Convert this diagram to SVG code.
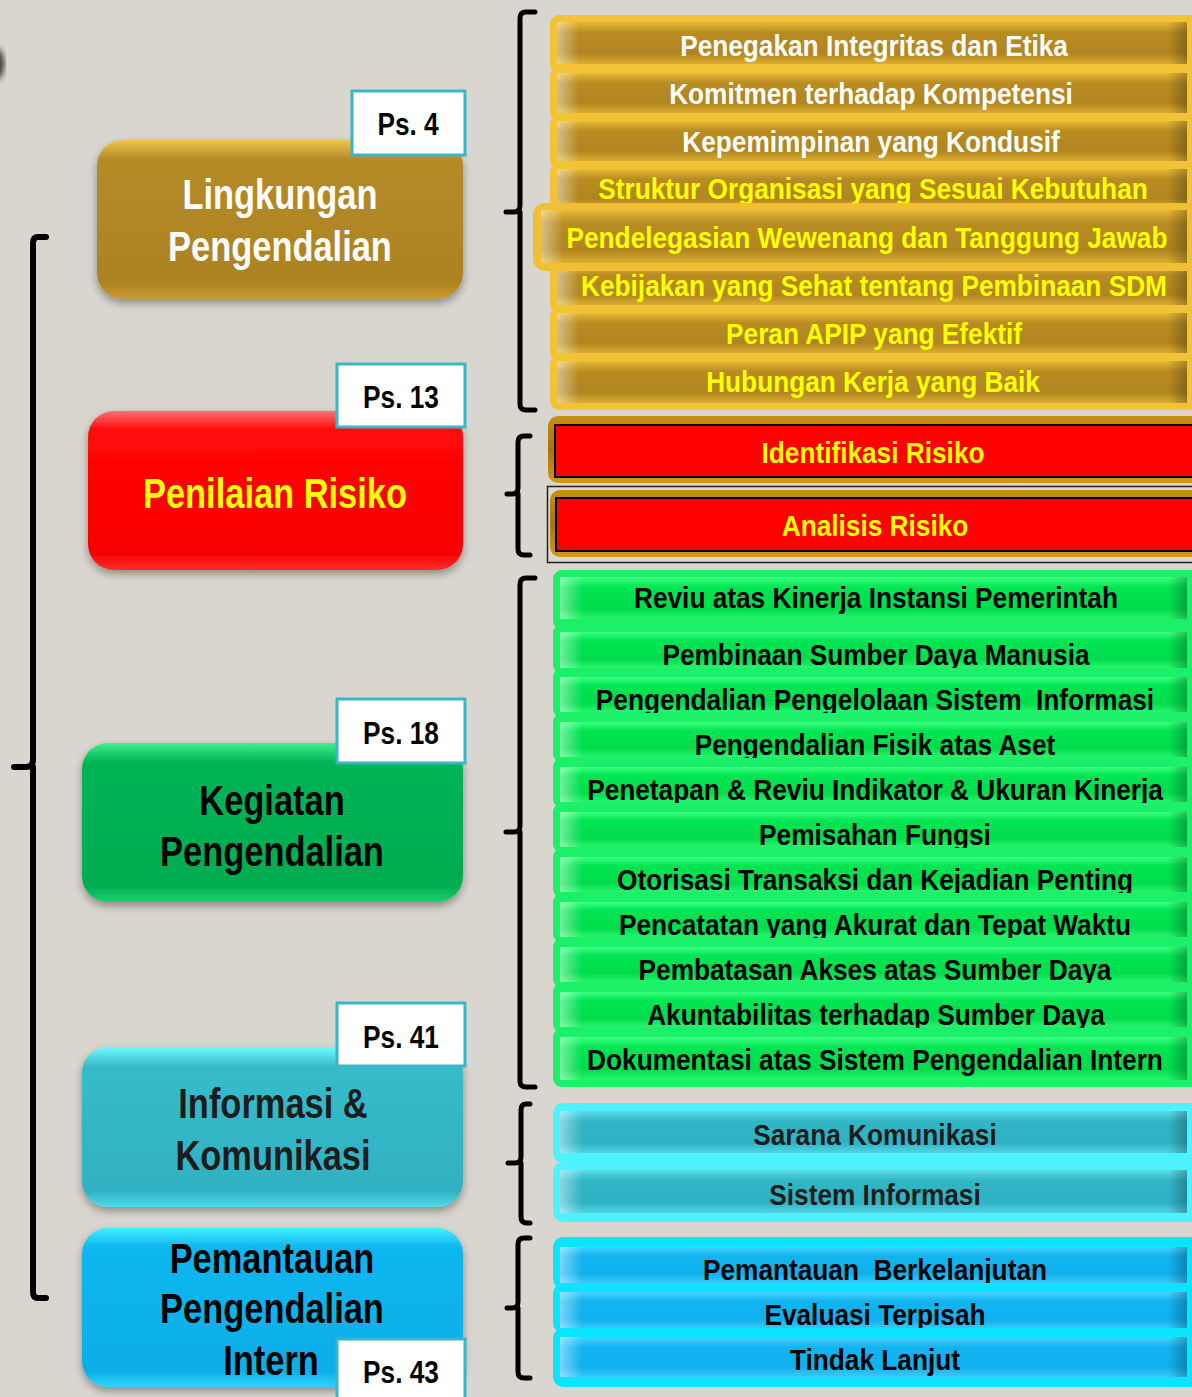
<svg xmlns="http://www.w3.org/2000/svg" width="1192" height="1397" viewBox="0 0 1192 1397">
<defs>
<style>
.t{font-family:"Liberation Sans Narrow","Liberation Sans",Arial,sans-serif;font-weight:bold;text-anchor:middle;transform-box:fill-box;transform-origin:center;transform:scaleX(0.82);white-space:pre}
.big{font-size:42px}
.bar{font-size:29px;transform:scaleX(0.905)}
.ps{font-size:32px;fill:#000}
.psbox{fill:#fff;stroke:#3ab6c6;stroke-width:3}
.brace{fill:none;stroke:#000;stroke-width:5;stroke-linecap:round;stroke-linejoin:round}
.bigbrace{fill:none;stroke:#000;stroke-width:6;stroke-linecap:round;stroke-linejoin:round}
.w{fill:#fff}.y{fill:#ffff00}.k{fill:#000}.dk{fill:#1c1c1c}
.bev{fill:url(#bevH)}
</style>
<filter id="sh" x="-10%" y="-10%" width="120%" height="130%"><feDropShadow dx="0" dy="4" stdDeviation="4" flood-color="#000" flood-opacity="0.35"/></filter>
<filter id="blur"><feGaussianBlur stdDeviation="3"/></filter>
<linearGradient id="bevH" x1="0" y1="0" x2="1" y2="0">
<stop offset="0" stop-color="#fff" stop-opacity="0.45"/>
<stop offset="0.035" stop-color="#fff" stop-opacity="0"/>
<stop offset="0.97" stop-color="#000" stop-opacity="0"/>
<stop offset="1" stop-color="#000" stop-opacity="0.25"/>
</linearGradient>
<linearGradient id="gF" x1="0" y1="0" x2="0" y2="1">
<stop offset="0" stop-color="#e6b836"/><stop offset="0.25" stop-color="#b98c22"/><stop offset="0.75" stop-color="#b08520"/><stop offset="1" stop-color="#dcae30"/>
</linearGradient>
<linearGradient id="grF" x1="0" y1="0" x2="0" y2="1">
<stop offset="0" stop-color="#3cff80"/><stop offset="0.25" stop-color="#00e552"/><stop offset="0.75" stop-color="#00dc4c"/><stop offset="1" stop-color="#28f46c"/>
</linearGradient>
<linearGradient id="tF" x1="0" y1="0" x2="0" y2="1">
<stop offset="0" stop-color="#5fdcea"/><stop offset="0.25" stop-color="#31b6c6"/><stop offset="0.75" stop-color="#2eb2c3"/><stop offset="1" stop-color="#52d4e4"/>
</linearGradient>
<linearGradient id="bF" x1="0" y1="0" x2="0" y2="1">
<stop offset="0" stop-color="#45d4ff"/><stop offset="0.25" stop-color="#12b4f0"/><stop offset="0.75" stop-color="#0fb0ee"/><stop offset="1" stop-color="#3ccaf8"/>
</linearGradient>
<linearGradient id="rB" x1="0" y1="0" x2="0" y2="1">
<stop offset="0" stop-color="#c98f10"/><stop offset="0.5" stop-color="#a8740a"/><stop offset="1" stop-color="#d29a18"/>
</linearGradient>
<linearGradient id="mG" x1="0" y1="0" x2="0" y2="1">
<stop offset="0" stop-color="#f0c64a"/><stop offset="0.12" stop-color="#b58b28"/><stop offset="0.9" stop-color="#ad8322"/><stop offset="1" stop-color="#c99c30"/>
</linearGradient>
<linearGradient id="mR" x1="0" y1="0" x2="0" y2="1">
<stop offset="0" stop-color="#ff7070"/><stop offset="0.12" stop-color="#ff0808"/><stop offset="0.9" stop-color="#f80000"/><stop offset="1" stop-color="#ff3030"/>
</linearGradient>
<linearGradient id="mGr" x1="0" y1="0" x2="0" y2="1">
<stop offset="0" stop-color="#3ef090"/><stop offset="0.12" stop-color="#00b456"/><stop offset="0.9" stop-color="#00ac50"/><stop offset="1" stop-color="#20d070"/>
</linearGradient>
<linearGradient id="mT" x1="0" y1="0" x2="0" y2="1">
<stop offset="0" stop-color="#70faff"/><stop offset="0.12" stop-color="#36bccb"/><stop offset="0.9" stop-color="#2fb1c1"/><stop offset="1" stop-color="#50dcec"/>
</linearGradient>
<linearGradient id="mB" x1="0" y1="0" x2="0" y2="1">
<stop offset="0" stop-color="#40f0ff"/><stop offset="0.12" stop-color="#10b6ee"/><stop offset="0.9" stop-color="#0eaeea"/><stop offset="1" stop-color="#30d4f8"/>
</linearGradient>
</defs>

<rect width="1192" height="1397" fill="#d9d5cf"/>
<ellipse cx="-5" cy="64" rx="9" ry="16" fill="#333" filter="url(#blur)"/>

<g id="connectors">
<path class="bigbrace" d="M46,237 H38 Q33,237 33,243 V760 Q33,767 26,767 H14 M33,767 Q33,767 33,774 V1292 Q33,1298 38,1298 H46"/>
<path class="brace" d="M535,12 H526 Q520,12 520,18 V205 Q520,212 514,212 H506 M520,212 V404 Q520,410 526,410 H535"/>
<path class="brace" d="M530,436 H524 Q518,436 518,442 V488 Q518,494 512,494 H507 M518,494 V549 Q518,555 524,555 H530"/>
<path class="brace" d="M535,578 H526 Q520,578 520,584 V826 Q520,832 514,832 H506 M520,832 V1081 Q520,1087 526,1087 H535"/>
<path class="brace" d="M530,1104 H526 Q521,1104 521,1110 V1157 Q521,1163 515,1163 H508 M521,1163 V1217 Q521,1223 527,1223 H530"/>
<path class="brace" d="M530,1238 H524 Q518,1238 518,1244 V1302 Q518,1308 512,1308 H507 M518,1308 V1372 Q518,1378 524,1378 H530"/>
</g>

<g id="node-lingkungan">
<rect x="97" y="140" width="366" height="159" rx="26" fill="url(#mG)" filter="url(#sh)"/>
<text class="t big w" x="280" y="209">Lingkungan</text>
<text class="t big w" x="280" y="261">Pengendalian</text>
<rect class="psbox" x="352" y="91" width="113" height="64"/>
<text class="t ps" x="408" y="135">Ps. 4</text>
</g>

<g id="node-penilaian">
<rect x="88" y="411" width="375" height="159" rx="26" fill="url(#mR)" filter="url(#sh)"/>
<text class="t big y" x="275" y="508">Penilaian Risiko</text>
<rect class="psbox" x="337" y="364" width="128" height="63"/>
<text class="t ps" x="401" y="408">Ps. 13</text>
</g>

<g id="node-kegiatan">
<rect x="82" y="743" width="381" height="159" rx="26" fill="url(#mGr)" filter="url(#sh)"/>
<text class="t big k" x="272" y="815">Kegiatan</text>
<text class="t big k" x="272" y="866">Pengendalian</text>
<rect class="psbox" x="337" y="699" width="128" height="64"/>
<text class="t ps" x="401" y="744">Ps. 18</text>
</g>

<g id="node-informasi">
<rect x="82" y="1047" width="381" height="160" rx="26" fill="url(#mT)" filter="url(#sh)"/>
<text class="t big dk" x="273" y="1118">Informasi &amp;</text>
<text class="t big dk" x="273" y="1170">Komunikasi</text>
<rect class="psbox" x="337" y="1003" width="128" height="63"/>
<text class="t ps" x="401" y="1048">Ps. 41</text>
</g>

<g id="node-pemantauan">
<rect x="82" y="1228" width="381" height="159" rx="26" fill="url(#mB)" filter="url(#sh)"/>
<text class="t big k" x="272" y="1273">Pemantauan</text>
<text class="t big k" x="272" y="1323">Pengendalian</text>
<text class="t big k" x="271" y="1375">Intern</text>
<rect class="psbox" x="337" y="1339" width="128" height="70"/>
<text class="t ps" x="401" y="1383">Ps. 43</text>
</g>

<g id="gold-items">
<g id="g1"><rect x="550" y="15" width="700" height="58" rx="9" fill="#f2c337"/><rect x="557" y="22" width="630" height="42" fill="url(#gF)"/><rect class="bev" x="557" y="22" width="630" height="42"/><text class="t bar w" x="874" y="56">Penegakan Integritas dan Etika</text></g>
<g id="g2"><rect x="550" y="67" width="700" height="54" rx="9" fill="#f2c337"/><rect x="557" y="73" width="630" height="40" fill="url(#gF)"/><rect class="bev" x="557" y="73" width="630" height="40"/><text class="t bar w" x="871" y="104">Komitmen terhadap Kompetensi</text></g>
<g id="g3"><rect x="550" y="115" width="700" height="54" rx="9" fill="#f2c337"/><rect x="557" y="121" width="630" height="40" fill="url(#gF)"/><rect class="bev" x="557" y="121" width="630" height="40"/><text class="t bar w" x="871" y="152">Kepemimpinan yang Kondusif</text></g>
<g id="g4"><rect x="550" y="163" width="700" height="54" rx="9" fill="#f2c337"/><rect x="557" y="169" width="630" height="40" fill="url(#gF)"/><rect class="bev" x="557" y="169" width="630" height="40"/><text class="t bar y" x="873" y="199">Struktur Organisasi yang Sesuai Kebutuhan</text></g>
<g id="g6"><rect x="550" y="259" width="700" height="54" rx="9" fill="#f2c337"/><rect x="557" y="265" width="630" height="40" fill="url(#gF)"/><rect class="bev" x="557" y="265" width="630" height="40"/><text class="t bar y" x="874" y="296">Kebijakan yang Sehat tentang Pembinaan SDM</text></g>
<g id="g7"><rect x="550" y="307" width="700" height="54" rx="9" fill="#f2c337"/><rect x="557" y="313" width="630" height="40" fill="url(#gF)"/><rect class="bev" x="557" y="313" width="630" height="40"/><text class="t bar y" x="874" y="344">Peran APIP yang Efektif</text></g>
<g id="g8"><rect x="550" y="355" width="700" height="55" rx="9" fill="#f2c337"/><rect x="557" y="361" width="630" height="42" fill="url(#gF)"/><rect class="bev" x="557" y="361" width="630" height="42"/><text class="t bar y" x="873" y="392">Hubungan Kerja yang Baik</text></g>
<g id="g5"><rect x="533" y="203" width="720" height="68" rx="12" fill="#f0bf34"/><rect x="541" y="210" width="646" height="53" fill="url(#gF)"/><rect class="bev" x="541" y="210" width="646" height="53"/><text class="t bar y" x="867" y="248">Pendelegasian Wewenang dan Tanggung Jawab</text></g>
</g>

<g id="red-items">
<g id="r1"><rect x="548" y="416" width="700" height="67" rx="10" fill="url(#rB)"/><rect x="555" y="425" width="660" height="52" fill="#ff0000" stroke="#000" stroke-width="2"/><text class="t bar y" x="873" y="463">Identifikasi Risiko</text></g>
<g id="r2"><rect x="547.5" y="486.5" width="700" height="76" fill="#dcd8d2" stroke="#222" stroke-width="1.5"/><rect x="550" y="490" width="700" height="67" rx="10" fill="url(#rB)"/><rect x="556" y="498" width="660" height="53" fill="#ff0000" stroke="#000" stroke-width="2"/><text class="t bar y" x="875" y="536">Analisis Risiko</text></g>
</g>

<g id="green-items">
<g id="k1"><rect x="553" y="570" width="700" height="60" rx="9" fill="#1cf068"/><rect x="560" y="577" width="627" height="42" fill="url(#grF)"/><rect class="bev" x="560" y="577" width="627" height="42"/><text class="t bar k" x="876" y="608">Reviu atas Kinerja Instansi Pemerintah</text></g>
<g id="k2"><rect x="553" y="624" width="700" height="50" rx="9" fill="#1cf068"/><rect x="560" y="632" width="627" height="36" fill="url(#grF)"/><rect class="bev" x="560" y="632" width="627" height="36"/><text class="t bar k" x="876" y="665">Pembinaan Sumber Daya Manusia</text></g>
<g id="k3"><rect x="553" y="668" width="700" height="50" rx="9" fill="#1cf068"/><rect x="560" y="677" width="627" height="35" fill="url(#grF)"/><rect class="bev" x="560" y="677" width="627" height="35"/><text class="t bar k" x="875" y="710">Pengendalian Pengelolaan Sistem  Informasi</text></g>
<g id="k4"><rect x="553" y="713" width="700" height="50" rx="9" fill="#1cf068"/><rect x="560" y="722" width="627" height="35" fill="url(#grF)"/><rect class="bev" x="560" y="722" width="627" height="35"/><text class="t bar k" x="875" y="755">Pengendalian Fisik atas Aset</text></g>
<g id="k5"><rect x="553" y="758" width="700" height="50" rx="9" fill="#1cf068"/><rect x="560" y="767" width="627" height="35" fill="url(#grF)"/><rect class="bev" x="560" y="767" width="627" height="35"/><text class="t bar k" x="875" y="800">Penetapan &amp; Reviu Indikator &amp; Ukuran Kinerja</text></g>
<g id="k6"><rect x="553" y="803" width="700" height="50" rx="9" fill="#1cf068"/><rect x="560" y="812" width="627" height="35" fill="url(#grF)"/><rect class="bev" x="560" y="812" width="627" height="35"/><text class="t bar k" x="875" y="845">Pemisahan Fungsi</text></g>
<g id="k7"><rect x="553" y="848" width="700" height="50" rx="9" fill="#1cf068"/><rect x="560" y="857" width="627" height="35" fill="url(#grF)"/><rect class="bev" x="560" y="857" width="627" height="35"/><text class="t bar k" x="875" y="890">Otorisasi Transaksi dan Kejadian Penting</text></g>
<g id="k8"><rect x="553" y="893" width="700" height="50" rx="9" fill="#1cf068"/><rect x="560" y="902" width="627" height="35" fill="url(#grF)"/><rect class="bev" x="560" y="902" width="627" height="35"/><text class="t bar k" x="875" y="935">Pencatatan yang Akurat dan Tepat Waktu</text></g>
<g id="k9"><rect x="553" y="938" width="700" height="50" rx="9" fill="#1cf068"/><rect x="560" y="947" width="627" height="35" fill="url(#grF)"/><rect class="bev" x="560" y="947" width="627" height="35"/><text class="t bar k" x="875" y="980">Pembatasan Akses atas Sumber Daya</text></g>
<g id="k10"><rect x="553" y="983" width="700" height="50" rx="9" fill="#1cf068"/><rect x="560" y="992" width="627" height="35" fill="url(#grF)"/><rect class="bev" x="560" y="992" width="627" height="35"/><text class="t bar k" x="876" y="1025">Akuntabilitas terhadap Sumber Daya</text></g>
<g id="k11"><rect x="553" y="1028" width="700" height="59" rx="9" fill="#1cf068"/><rect x="560" y="1037" width="627" height="43" fill="url(#grF)"/><rect class="bev" x="560" y="1037" width="627" height="43"/><text class="t bar k" x="875" y="1070">Dokumentasi atas Sistem Pengendalian Intern</text></g>
</g>

<g id="teal-items">
<g id="i1"><rect x="553" y="1103" width="700" height="60" rx="10" fill="#4ef2ff"/><rect x="560" y="1111" width="627" height="42" fill="url(#tF)"/><rect class="bev" x="560" y="1111" width="627" height="42"/><text class="t bar dk" x="875" y="1145">Sarana Komunikasi</text></g>
<g id="i2"><rect x="553" y="1162" width="700" height="60" rx="10" fill="#4ef2ff"/><rect x="560" y="1170" width="627" height="43" fill="url(#tF)"/><rect class="bev" x="560" y="1170" width="627" height="43"/><text class="t bar dk" x="875" y="1205">Sistem Informasi</text></g>
</g>

<g id="blue-items">
<g id="p1"><rect x="553" y="1237" width="700" height="52" rx="10" fill="#0ae4ff"/><rect x="560" y="1247" width="627" height="36" fill="url(#bF)"/><rect class="bev" x="560" y="1247" width="627" height="36"/><text class="t bar k" x="875" y="1280">Pemantauan  Berkelanjutan</text></g>
<g id="p2"><rect x="553" y="1283" width="700" height="50" rx="10" fill="#0ae4ff"/><rect x="560" y="1292" width="627" height="37" fill="url(#bF)"/><rect class="bev" x="560" y="1292" width="627" height="37"/><text class="t bar k" x="875" y="1325">Evaluasi Terpisah</text></g>
<g id="p3"><rect x="553" y="1328" width="700" height="59" rx="10" fill="#0ae4ff"/><rect x="560" y="1337" width="627" height="40" fill="url(#bF)"/><rect class="bev" x="560" y="1337" width="627" height="40"/><text class="t bar k" x="875" y="1370">Tindak Lanjut</text></g>
</g>
</svg>
